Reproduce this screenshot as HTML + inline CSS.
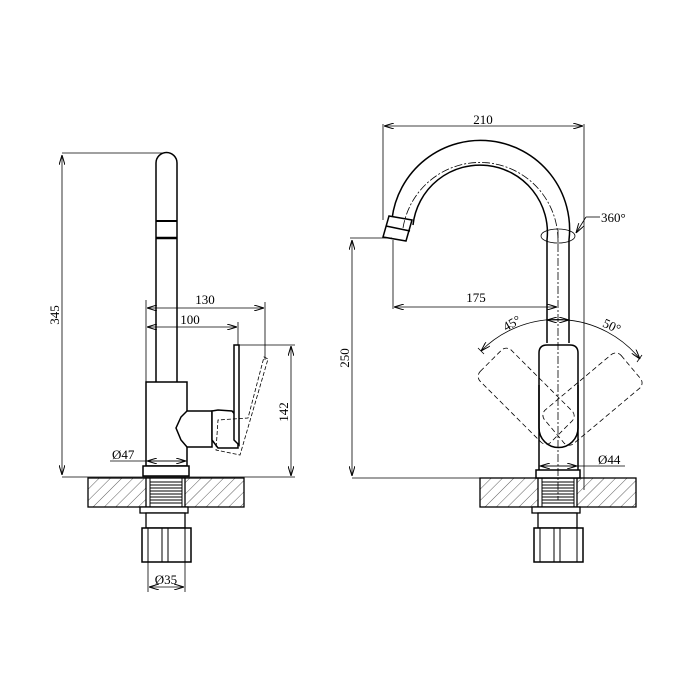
<!DOCTYPE html>
<html><head><meta charset="utf-8"><style>html,body{margin:0;padding:0;background:#fff}svg{display:block}</style></head>
<body>
<svg width="700" height="700" viewBox="0 0 700 700" xmlns="http://www.w3.org/2000/svg" font-family="Liberation Serif, serif" font-size="13">
<defs>
<pattern id="h" patternUnits="userSpaceOnUse" width="8" height="8" patternTransform="rotate(45)">
<line x1="0" y1="0" x2="0" y2="8" stroke="#333" stroke-width="0.8"/>
</pattern>
<marker id="a" viewBox="0 0 10 6" refX="10" refY="3" markerWidth="10" markerHeight="6" orient="auto-start-reverse" markerUnits="userSpaceOnUse">
<path d="M0,0 L10,3 L0,6" fill="none" stroke="#000" stroke-width="1"/>
</marker>
<g id="base">
<rect x="88" y="478" width="156" height="29" fill="url(#h)" stroke="#000" stroke-width="1.3"/>
<rect x="146" y="478" width="39" height="29" fill="#fff" stroke="#000" stroke-width="1.3"/>
<g stroke="#000" stroke-width="1">
<line x1="150" y1="482" x2="182" y2="482"/><line x1="150" y1="485" x2="182" y2="485"/><line x1="150" y1="488" x2="182" y2="488"/><line x1="150" y1="491" x2="182" y2="491"/><line x1="150" y1="494" x2="182" y2="494"/><line x1="150" y1="497" x2="182" y2="497"/><line x1="150" y1="500" x2="182" y2="500"/><line x1="150" y1="503" x2="182" y2="503"/>
<line x1="150" y1="478" x2="150" y2="507"/><line x1="182" y1="478" x2="182" y2="507"/>
</g>
<rect x="140" y="507" width="48" height="6" fill="#fff" stroke="#000" stroke-width="1.3"/>
<rect x="146" y="513" width="39" height="15" fill="#fff" stroke="#000" stroke-width="1.3"/>
<rect x="142" y="528" width="49" height="34" fill="#fff" stroke="#000" stroke-width="1.5"/>
<line x1="148" y1="528" x2="148" y2="562" stroke="#000"/><line x1="185" y1="528" x2="185" y2="562" stroke="#000"/>
<line x1="162" y1="528" x2="162" y2="562" stroke="#000"/><line x1="168" y1="528" x2="168" y2="562" stroke="#000"/>
</g>
</defs>

<!-- LEFT VIEW -->
<use href="#base"/>
<g fill="none" stroke="#000" stroke-width="1.5">
<path d="M156,382 V163 A10.5,10.5 0 0 1 177,163 V382"/>
<line x1="156" y1="221" x2="177" y2="221" stroke-width="2"/>
<line x1="156" y1="238" x2="177" y2="238" stroke-width="2.5"/>
<rect x="146" y="382" width="41" height="84" fill="#fff"/>
<rect x="143" y="466" width="46" height="10" fill="#fff"/>
<path d="M187,411 L181,417 L176,428 L181,440 L187,447 L212,447 V411 Z" fill="#fff"/>
<path d="M212,411 L218,410 L232,411 L238,418 L238,448 L218,448 L212,440 Z" fill="#fff"/>
<path d="M234,345 H239 V445 L234,440 Z" fill="#fff"/>
</g>
<g fill="none" stroke="#000" stroke-width="0.8" stroke-dasharray="4,2">
<path d="M264,357 L268,359 L240,455 L216,450 L218,420 L248,418 Z"/>
</g>
<g stroke="#000" stroke-width="0.8" fill="none">
<line x1="62" y1="153" x2="165" y2="153"/>
<line x1="62" y1="477" x2="295" y2="477"/>
<line x1="62" y1="155" x2="62" y2="475" marker-start="url(#a)" marker-end="url(#a)"/>
<line x1="146" y1="300" x2="146" y2="382"/>
<line x1="265" y1="302" x2="265" y2="360"/>
<line x1="238" y1="322" x2="238" y2="345"/>
<line x1="147" y1="308" x2="264" y2="308" marker-start="url(#a)" marker-end="url(#a)"/>
<line x1="147" y1="327" x2="237" y2="327" marker-start="url(#a)" marker-end="url(#a)"/>
<line x1="239" y1="345" x2="295" y2="345"/>
<line x1="291" y1="346" x2="291" y2="476" marker-start="url(#a)" marker-end="url(#a)"/>
<line x1="110" y1="461" x2="187" y2="461"/>
<line x1="147" y1="461" x2="186" y2="461" marker-start="url(#a)" marker-end="url(#a)"/>
<line x1="148" y1="562" x2="148" y2="592"/><line x1="185" y1="562" x2="185" y2="592"/>
<line x1="149" y1="587" x2="184" y2="587" marker-start="url(#a)" marker-end="url(#a)"/>
</g>
<text x="205" y="304" text-anchor="middle">130</text>
<text x="190" y="324" text-anchor="middle">100</text>
<text x="112" y="459">Ø47</text>
<text x="166" y="584" text-anchor="middle">Ø35</text>
<text transform="translate(59,315) rotate(-90)" text-anchor="middle">345</text>
<text transform="translate(288,412) rotate(-90)" text-anchor="middle">142</text>

<!-- RIGHT VIEW -->
<use href="#base" transform="translate(392,0)"/>
<g fill="none" stroke="#000" stroke-width="1.5">
<path d="M569,343 V240 A89,89 0 0 0 392,219"/>
<path d="M547,343 V240 A67,67 0 0 0 413,225"/>
<path d="M389,216 L412,220 L406,241 L383,237 Z" fill="#fff"/>
<line x1="386" y1="226" x2="410" y2="231"/>
<path d="M539,470 V353 Q539,345 547,345 H570 Q578,345 578,353 V470" fill="#fff"/>
<path d="M539,385 V428 A19.5,19.5 0 0 0 578,428 V385"/>
<rect x="536" y="470" width="44" height="8" fill="#fff"/>
</g>
<g fill="none" stroke="#000" stroke-width="0.8" stroke-dasharray="8,2,2,2">
<path d="M558,240 A78,78 0 0 0 403,228"/>
<line x1="558" y1="230" x2="558" y2="500"/>
</g>
<g fill="none" stroke="#000" stroke-width="0.8" stroke-dasharray="5,3">
<rect x="536" y="333" width="44" height="100" rx="7" transform="rotate(-45 558 428)"/>
<rect x="536" y="333" width="44" height="100" rx="7" transform="rotate(50 558 428)"/>
</g>
<g stroke="#000" stroke-width="0.8" fill="none">
<ellipse cx="558" cy="236" rx="17" ry="7"/>
<line x1="383" y1="124" x2="383" y2="220"/>
<line x1="584" y1="124" x2="584" y2="490"/>
<line x1="384" y1="126" x2="583" y2="126" marker-start="url(#a)" marker-end="url(#a)"/>
<line x1="576" y1="233" x2="586" y2="217" marker-start="url(#a)"/><line x1="586" y1="217" x2="600" y2="217"/>
<line x1="350" y1="238" x2="392" y2="238"/>
<line x1="352" y1="478" x2="480" y2="478"/>
<line x1="352" y1="240" x2="352" y2="476" marker-start="url(#a)" marker-end="url(#a)"/>
<line x1="393" y1="240" x2="393" y2="309"/>
<line x1="394" y1="307" x2="557" y2="307" marker-start="url(#a)" marker-end="url(#a)"/>
<line x1="547" y1="320" x2="569" y2="320" marker-start="url(#a)" marker-end="url(#a)"/>
<path d="M481,351 A107,107 0 0 1 640,359" marker-start="url(#a)" marker-end="url(#a)"/>
<line x1="478" y1="348" x2="484" y2="354"/>
<line x1="642" y1="355" x2="637" y2="362"/>
<line x1="539" y1="466" x2="625" y2="466"/>
<line x1="540" y1="466" x2="577" y2="466" marker-start="url(#a)" marker-end="url(#a)"/>
</g>
<text x="483" y="124" text-anchor="middle">210</text>
<text x="601" y="222">360°</text>
<text x="476" y="302" text-anchor="middle">175</text>
<text transform="translate(514,327) rotate(-30)" text-anchor="middle">45°</text>
<text transform="translate(610,330) rotate(25)" text-anchor="middle">50°</text>
<text x="598" y="464">Ø44</text>
<text transform="translate(349,358) rotate(-90)" text-anchor="middle">250</text>
</svg>
</body></html>
